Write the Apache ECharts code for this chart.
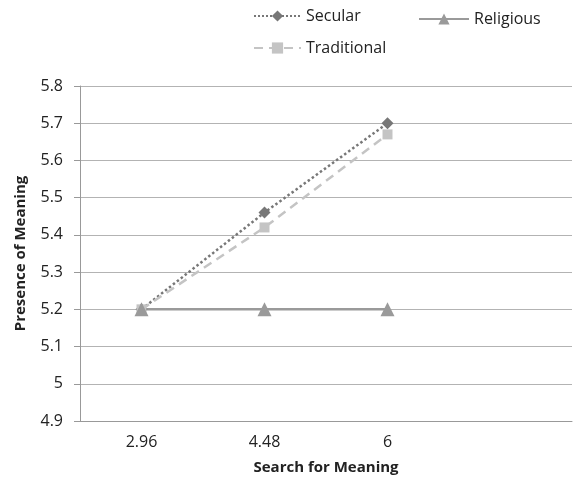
<!DOCTYPE html>
<html lang="en">
<head>
    <meta charset="UTF-8">
    <title>Presence of Meaning</title>
    <script src="https://cdn.jsdelivr.net/npm/echarts@6/dist/echarts.min.js"></script>
</head>
<body style="margin:0">
<div id="box" style="width: 574px;height: 481px;"></div>
<script>
    // data
    var categories = ['2.96', '4.48', '6', ''];
    var secular = [5.2, 5.46, 5.7];
    var traditional = [5.2, 5.42, 5.67];
    var religious = [5.2, 5.2, 5.2];

    var font = 'Open Sans, Liberation Sans, sans-serif';
    var myChart = echarts.init(document.getElementById('box'));
    var option = {
        animation: false,
        textStyle: {fontFamily: font},
        legend: [{
            data: ['Secular', 'Traditional'],
            orient: 'vertical',
            left: 248, top: 3,
            itemWidth: 47, itemHeight: 14, itemGap: 16,
            textStyle: {fontSize: 16, color: '#222', fontFamily: font}
        }, {
            data: ['Religious'],
            left: 413, top: 6,
            itemWidth: 50, itemHeight: 14,
            textStyle: {fontSize: 16, color: '#222', fontFamily: font}
        }],
        grid: {left: 80, right: 2, top: 86, bottom: 60},
        xAxis: {
            type: 'category',
            data: categories,
            name: 'Search for Meaning',
            nameLocation: 'middle',
            nameGap: 39,
            nameTextStyle: {fontWeight: 'bold', fontSize: 15, color: '#222'},
            axisLine: {lineStyle: {color: '#999'}},
            axisTick: {length: 5, lineStyle: {color: '#999'}},
            axisLabel: {fontSize: 16, color: '#222', margin: 13}
        },
        yAxis: {
            type: 'value',
            min: 4.9, max: 5.8, interval: 0.1,
            name: 'Presence of Meaning',
            nameLocation: 'middle',
            nameGap: 52,
            nameTextStyle: {fontWeight: 'bold', fontSize: 15, color: '#222'},
            axisLine: {show: true, lineStyle: {color: '#999'}},
            axisTick: {show: true, length: 6, lineStyle: {color: '#999'}},
            axisLabel: {
                fontSize: 16, color: '#222', margin: 17,
                formatter: function (v) { return String(Math.round(v * 10) / 10); }
            },
            splitLine: {lineStyle: {color: '#b3b3b3'}}
        },
        series: [{
            name: 'Secular', type: 'line', data: secular,
            symbol: 'diamond', symbolSize: 12,
            itemStyle: {color: '#777'},
            lineStyle: {color: '#777', type: 'dotted', width: 2.5}
        }, {
            name: 'Traditional', type: 'line', data: traditional,
            symbol: 'rect', symbolSize: 10,
            itemStyle: {color: '#c4c4c4'},
            lineStyle: {color: '#c4c4c4', type: [9, 6], width: 2.5}
        }, {
            name: 'Religious', type: 'line', data: religious,
            symbol: 'triangle', symbolSize: 14,
            itemStyle: {color: '#9a9a9a'},
            lineStyle: {color: '#9a9a9a', width: 2.5}
        }]
    };
    myChart.setOption(option);
</script>
</body>
</html>
